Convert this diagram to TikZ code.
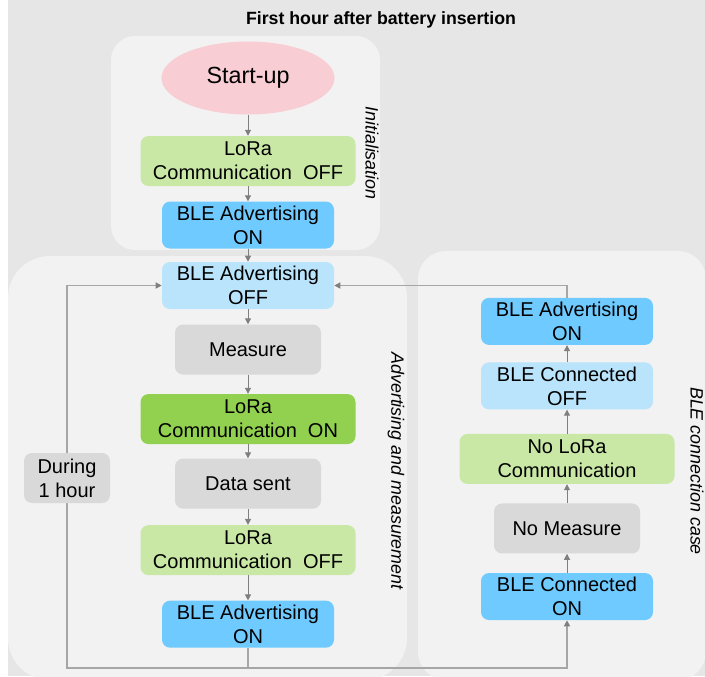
\documentclass[tikz,border=0pt]{standalone}
\usepackage{fontspec}
\setmainfont{Liberation Sans}
\usepackage{xcolor}
\definecolor{bggray}{HTML}{E6E6E6}
\definecolor{panelgray}{HTML}{F2F2F2}
\definecolor{startpink}{HTML}{F8CDD3}
\definecolor{lightgreen}{HTML}{C9E8A6}
\definecolor{deepgreen}{HTML}{92D050}
\definecolor{bleon}{HTML}{6FCBFF}
\definecolor{bleoff}{HTML}{B9E4FB}
\definecolor{stepgray}{HTML}{D9D9D9}
\definecolor{linegray}{HTML}{7F7F7F}
\definecolor{loopgray}{HTML}{A6A6A6}
\usepackage{tikz}
\usetikzlibrary{arrows.meta, positioning, shapes.geometric}

\begin{document}
\begin{tikzpicture}[x=0.75pt, y=-0.75pt,
    box/.style={rectangle, rounded corners=6pt, fill=#1, align=center, inner sep=1pt, font=\fontsize{15}{18}\selectfont},
    bluebox/.style={box=#1, minimum width=129pt, minimum height=35.25pt},
    greenbox/.style={box=#1, minimum width=161.25pt, minimum height=37.5pt},
    graybox/.style={box=stepgray, minimum width=109.5pt, minimum height=37.5pt},
    arr/.style={-{Triangle[length=4.5pt, width=4.5pt]}, color=linegray, line width=0.75pt},
    loopline/.style={color=loopgray, line width=1pt},
    looparr/.style={loopline, -{Triangle[length=4.5pt, width=4.5pt, color=linegray]}},
    phase/.style={font=\fontsize{13.4}{16}\selectfont\itshape, rotate=-90},
]
    \useasboundingbox (0,0) rectangle (705,676);
    \fill[bggray] (8,0) rectangle (705,676);

    % panels
    \fill[panelgray, rounded corners=18pt] (111,36) rectangle (380,250);
    \fill[panelgray, rounded corners=31.5pt] (8,256) rectangle (407,680);
    \fill[panelgray, rounded corners=21pt] (418,251) rectangle (706,680);

    \node[font=\fontsize{13.3}{16}\selectfont\bfseries] (title) at (381,20) {First hour after battery insertion};

    % initialisation
    \node[ellipse, fill=startpink, minimum width=129.75pt, minimum height=54.75pt, inner sep=0pt, font=\fontsize{17.5}{21}\selectfont] (startup) at (248,78) {Start-up};
    \node[greenbox=lightgreen, below=15.75pt of startup] (loraoffinit) {LoRa\\Communication\ \ OFF};
    \node[bluebox=bleon, below=11.25pt of loraoffinit] (advoninit) {BLE Advertising\\ON};

    % advertising and measurement
    \node[bluebox=bleoff] (advoff) at (248,285.5) {BLE Advertising\\OFF};
    \node[graybox, below=11.25pt of advoff] (measure) {Measure};
    \node[greenbox=deepgreen, below=14.25pt of measure] (loraon) {LoRa\\Communication\ \ ON};
    \node[graybox, below=10.5pt of loraon] (datasent) {Data sent};
    \node[greenbox=lightgreen, below=12pt of datasent] (loraoff) {LoRa\\Communication\ \ OFF};
    \node[bluebox=bleon, below=18.75pt of loraoff] (advon) {BLE Advertising\\ON};

    % BLE connection case
    \node[bluebox=bleon] (connon) at (567,596.5) {BLE Connected\\ON};
    \node[graybox, above=14.25pt of connon] (nomeasure) {No Measure};
    \node[greenbox=lightgreen, above=14.25pt of nomeasure] (nolora) {No LoRa\\Communication};
    \node[bluebox=bleoff, above=18pt of nolora] (connoff) {BLE Connected\\OFF};
    \node[bluebox=bleon, above=12.75pt of connoff] (advonble) {BLE Advertising\\ON};

    \draw[arr] (startup) -- (loraoffinit);
    \draw[arr] (loraoffinit) -- (advoninit);
    \draw[arr] (advoninit) -- (advoff);
    \draw[arr] (advoff) -- (measure);
    \draw[arr] (measure) -- (loraon);
    \draw[arr] (loraon) -- (datasent);
    \draw[arr] (datasent) -- (loraoff);
    \draw[arr] (loraoff) -- (advon);
    \draw[arr] (connon) -- (nomeasure);
    \draw[arr] (nomeasure) -- (nolora);
    \draw[arr] (nolora) -- (connoff);
    \draw[arr] (connoff) -- (advonble);

    % loops
    \coordinate (loopL) at (67,668);
    \coordinate (loopR) at (567,668);
    \draw[looparr] (advon) -- (advon |- loopL) -- (loopL) |- (advoff);
    \draw[looparr] (advon |- loopL) -- (loopR) -- (connon);
    \draw[looparr] (advonble) |- (advoff);
    \node[graybox, minimum width=64.5pt] (during) at (67,478) {During\\1 hour};

    \node[phase] (initlabel) at (372,153) {Initialisation};
    \node[phase] (advlabel) at (396,471) {Advertising and measurement};
    \node[phase] (blelabel) at (697,471) {BLE connection case};
\end{tikzpicture}
\end{document}
